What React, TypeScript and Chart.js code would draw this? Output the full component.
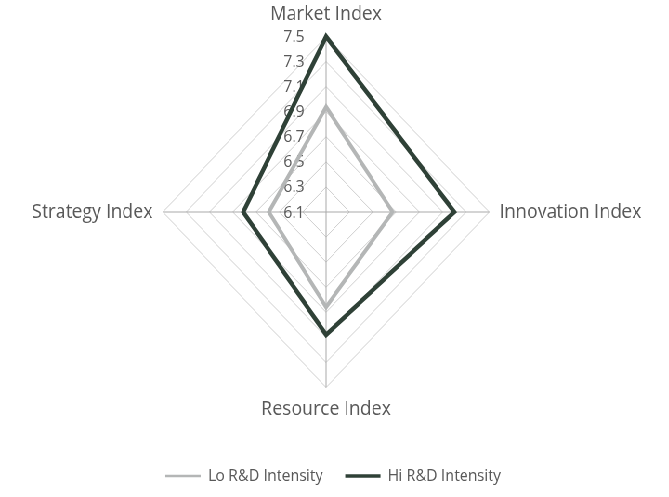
import React, { useEffect, useRef } from "react";
import { Chart, registerables } from "chart.js";

Chart.register(...registerables);

const CATEGORIES = ["Market Index", "Innovation Index", "Resource Index", "Strategy Index"];
const LO_RD = [6.94, 6.67, 6.86, 6.59];
const HI_RD = [7.5, 7.2, 7.08, 6.81];
const TICK_VALUES = [6.1, 6.3, 6.5, 6.7, 6.9, 7.1, 7.3, 7.5];
const TICK_LABELS = ["6.1", "6.3", "6.5", "6.7", "6.9", "7.1", "7.3", "7.5"];
const SERIES_NAMES = ["Lo R&D Intensity", "Hi R&D Intensity"];

const TEXT = "#595959";
const FONT = "'Open Sans', 'Noto Sans', sans-serif";
const SX = 0.929;
const W = 720;
const H = 497;

const tickLabelPlugin = {
  id: "tickLabelsLeft",
  beforeDatasetsDraw(chart: any) {
    const scale = chart.scales.r;
    const ctx = chart.ctx;
    ctx.save();
    ctx.font = `16px ${FONT}`;
    ctx.fillStyle = TEXT;
    ctx.textAlign = "center";
    ctx.textBaseline = "middle";
    TICK_VALUES.forEach((v, i) => {
      const d = scale.getDistanceFromCenterForValue(v);
      ctx.fillText(TICK_LABELS[i], scale.xCenter - 34.5, scale.yCenter - d + 1);
    });
    ctx.restore();
  },
};

export default function App() {
  const ref = useRef<HTMLCanvasElement | null>(null);

  useEffect(() => {
    if (!ref.current) return;
    const chart = new Chart(ref.current, {
      type: "radar",
      data: {
        labels: CATEGORIES,
        datasets: [
          {
            label: SERIES_NAMES[0],
            data: LO_RD,
            borderColor: "#b4b6b6",
            backgroundColor: "rgba(0,0,0,0)",
            borderWidth: 4,
            pointRadius: 0,
            fill: false,
          },
          {
            label: SERIES_NAMES[1],
            data: HI_RD,
            borderColor: "#2f4137",
            backgroundColor: "rgba(0,0,0,0)",
            borderWidth: 4.5,
            pointRadius: 0,
            fill: false,
          },
        ],
      },
      options: {
        responsive: false,
        animation: false,
        layout: { padding: { top: 4, bottom: 3, left: 0, right: 3 } },
        scales: {
          r: {
            min: 6.1,
            max: 7.5,
            afterBuildTicks: (scale: any) => {
              scale.ticks = TICK_VALUES.map((v) => ({ value: v }));
            },
            ticks: { display: false, showLabelBackdrop: false },
            grid: { color: "#cecece", lineWidth: 1, circular: false },
            angleLines: { color: "#a9a9a9", lineWidth: 1 },
            pointLabels: {
              color: TEXT,
              font: { family: FONT, size: 19.5, lineHeight: 1.1 },
              padding: 11,
            },
          },
        },
        plugins: {
          tooltip: { enabled: false },
          legend: {
            position: "bottom",
            title: { display: true, text: " ", font: { size: 10 }, padding: { top: 12, bottom: 0 } },
            labels: {
              usePointStyle: true,
              pointStyleWidth: 38,
              padding: 24,
              color: TEXT,
              font: { family: FONT, size: 16 },
              generateLabels: (c: any) =>
                c.data.datasets.map((ds: any, i: number) => ({
                  text: ds.label,
                  strokeStyle: ds.borderColor,
                  fillStyle: ds.borderColor,
                  lineWidth: i === 0 ? 2.5 : 3.5,
                  pointStyle: "line",
                  hidden: false,
                  datasetIndex: i,
                  fontColor: TEXT,
                })),
            },
          },
        },
      },
      plugins: [tickLabelPlugin],
    });
    return () => chart.destroy();
  }, []);

  return (
    <div
      style={{
        position: "absolute",
        left: 0,
        top: 0,
        width: W,
        height: H,
        transform: `scaleX(${SX})`,
        transformOrigin: "0 0",
        background: "#ffffff",
      }}
    >
      <canvas ref={ref} width={W} height={H} style={{ width: W, height: H, display: "block" }} />
    </div>
  );
}
